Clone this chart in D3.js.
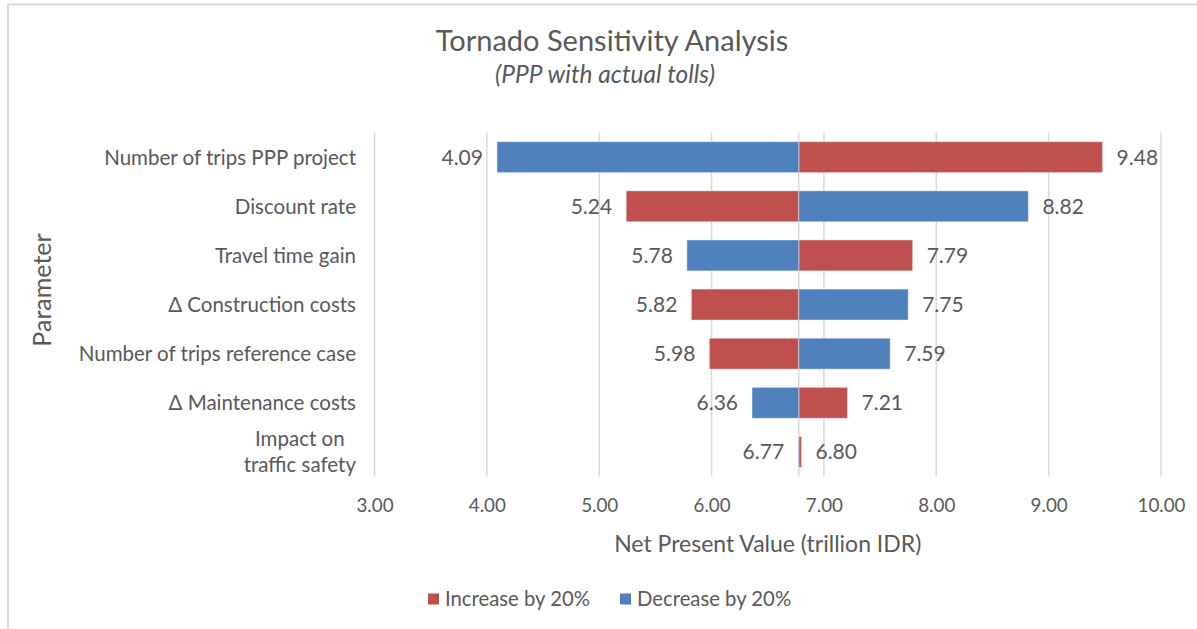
<!DOCTYPE html>
<html>
<head>
<meta charset="utf-8">
<script src="https://cdn.jsdelivr.net/npm/d3@7/dist/d3.min.js"></script>
<style>
  html, body { margin: 0; padding: 0; background: #fff; }
  svg { display: block; }
  text { font-family: Lato, "Open Sans", sans-serif; fill: #595959; }
</style>
</head>
<body>
<svg id="chart" width="1197" height="629"></svg>
<script>
// ---- Data ----
const categories = [
  "Number of trips PPP project",
  "Discount rate",
  "Travel time gain",
  "\u0394 Construction costs",
  "Number of trips reference case",
  "\u0394 Maintenance costs",
  "Impact on\ntraffic safety"
];
const increaseValues = [9.48, 5.24, 7.79, 5.82, 5.98, 7.21, 6.80];
const decreaseValues = [4.09, 8.82, 5.78, 7.75, 7.59, 6.36, 6.77];
const baseValue = 6.776;
const xTicks = [3, 4, 5, 6, 7, 8, 9, 10];
const seriesNames = ["Increase by 20%", "Decrease by 20%"];
const seriesColors = ["#C0504D", "#4F81BD"];
const titleText = "Tornado Sensitivity Analysis";
const subtitleText = "(PPP with actual tolls)";
const xAxisTitle = "Net Present Value (trillion IDR)";
const yAxisTitle = "Parameter";

// ---- Layout ----
const W = 1197, H = 629;
const plot = { left: 374.5, right: 1161, top: 132.6, bottom: 476.5 };
const svg = d3.select("#chart");

// chart frame (top and left edges visible)
svg.append("line").attr("x1", 7).attr("x2", W).attr("y1", 4.5).attr("y2", 4.5)
  .attr("stroke", "#D9D9D9").attr("stroke-width", 2);
svg.append("line").attr("x1", 8).attr("x2", 8).attr("y1", 4).attr("y2", H)
  .attr("stroke", "#D9D9D9").attr("stroke-width", 2);

const x = d3.scaleLinear().domain([3, 10]).range([plot.left, plot.right]);
const y = d3.scaleBand().domain(categories).range([plot.top, plot.bottom])
  .paddingInner(0.37).paddingOuter(0.185);

// gridlines
svg.append("g").selectAll("line").data(xTicks).join("line")
  .attr("x1", d => x(d)).attr("x2", d => x(d))
  .attr("y1", plot.top).attr("y2", plot.bottom)
  .attr("stroke", "#D9D9D9").attr("stroke-width", 1.5);
// base line
svg.append("line").attr("x1", x(baseValue)).attr("x2", x(baseValue))
  .attr("y1", plot.top).attr("y2", plot.bottom)
  .attr("stroke", "#D9D9D9").attr("stroke-width", 1.5);

// x axis tick labels via d3 axis
const xAxis = d3.axisBottom(x).tickValues(xTicks).tickFormat(d3.format(".2f")).tickSize(0).tickPadding(0);
const gx = svg.append("g").attr("transform", `translate(0,${plot.bottom + 35})`).call(xAxis);
gx.select(".domain").remove();
gx.selectAll("text").attr("font-size", 18.8).attr("font-family", "Lato, sans-serif")
  .attr("fill", "#595959").attr("dy", 0);

// bars
const series = [
  { name: seriesNames[0], values: increaseValues, color: seriesColors[0] },
  { name: seriesNames[1], values: decreaseValues, color: seriesColors[1] }
];
series.forEach(s => {
  const g = svg.append("g");
  const rows = categories.map((c, i) => ({ c, v: s.values[i] }));
  g.selectAll("rect").data(rows).join("rect")
    .attr("x", d => Math.min(x(d.v), x(baseValue)))
    .attr("width", d => Math.abs(x(d.v) - x(baseValue)))
    .attr("y", d => y(d.c))
    .attr("height", y.bandwidth())
    .attr("fill", s.color)
    .attr("stroke", "#fff").attr("stroke-opacity", 0.45).attr("stroke-width", 1);
  g.selectAll("text").data(rows).join("text")
    .attr("x", d => d.v < baseValue ? x(d.v) - 14 : x(d.v) + 14)
    .attr("y", d => y(d.c) + y.bandwidth() / 2)
    .attr("dy", "0.36em")
    .attr("text-anchor", d => d.v < baseValue ? "end" : "start")
    .attr("font-size", 21)
    .text(d => d.v.toFixed(2));
});

// category labels
const labelRight = 356;
const catG = svg.append("g");
categories.forEach(c => {
  const lines = c.split("\n");
  const cy = y(c) + y.bandwidth() / 2;
  const t = catG.append("text").attr("font-size", 20.5).attr("text-anchor", "middle");
  const lh = 25.7;
  lines.forEach((ln, j) => {
    t.append("tspan").attr("y", cy + (j - (lines.length - 1) / 2) * lh).attr("dy", "0.36em").text(ln);
  });
  let maxW = 0;
  t.selectAll("tspan").each(function () { maxW = Math.max(maxW, this.getComputedTextLength()); });
  t.selectAll("tspan").attr("x", labelRight - maxW / 2);
});

// titles
svg.append("text").attr("x", 612).attr("y", 51).attr("text-anchor", "middle")
  .attr("font-size", 29).text(titleText);
svg.append("text").attr("x", 605).attr("y", 83).attr("text-anchor", "middle")
  .attr("font-size", 24.5).attr("font-style", "italic").text(subtitleText);

// axis titles
svg.append("text").attr("x", (plot.left + plot.right) / 2).attr("y", 552).attr("text-anchor", "middle")
  .attr("font-size", 23).text(xAxisTitle);
svg.append("text").attr("transform", `translate(51,290) rotate(-90)`).attr("text-anchor", "middle")
  .attr("font-size", 25).text(yAxisTitle);

// legend
const legend = svg.append("g");
let lx = 428;
series.forEach(s => {
  legend.append("rect").attr("x", lx).attr("y", 593.5).attr("width", 11).attr("height", 11).attr("fill", s.color);
  const t = legend.append("text").attr("x", lx + 17).attr("y", 599).attr("dy", "0.36em")
    .attr("font-size", 20.3).text(s.name);
  lx = lx + 17 + t.node().getComputedTextLength() + 30;
});
</script>
</body>
</html>
